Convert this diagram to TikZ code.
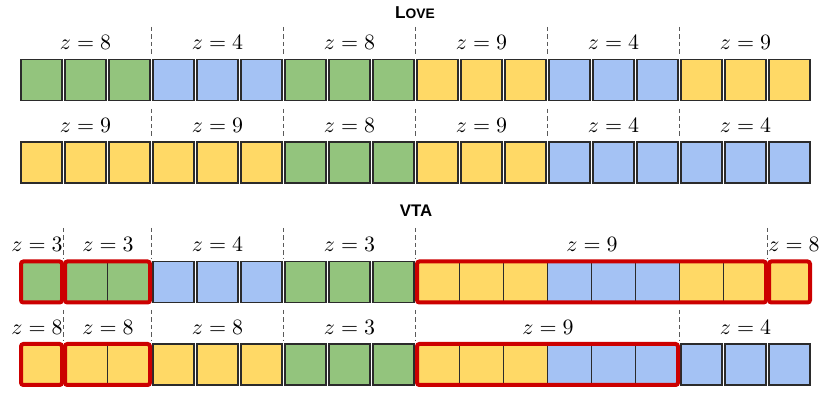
\documentclass[tikz,border=0pt]{standalone}
\usepackage{fontspec}
\newfontfamily\titlefont{Liberation Sans}
\definecolor{cg}{HTML}{93C47D}
\definecolor{cb}{HTML}{A4C2F4}
\definecolor{cy}{HTML}{FFD966}
\definecolor{sqborder}{HTML}{2B2B2B}
\definecolor{redc}{HTML}{CC0000}
\definecolor{dashc}{HTML}{5A5A5A}
\begin{document}
\begin{tikzpicture}[x=0.5pt,y=-0.5pt,
  sq/.style={draw=sqborder, line width=0.6pt, inner sep=0pt, outer sep=0pt, minimum height=20.5pt, anchor=north west},
  redbox/.style={draw=redc, line width=2pt, rounded corners=1.2pt},
  dashline/.style={draw=dashc, line width=0.75pt, dash pattern=on 2.2pt off 1.5pt},
  lab/.style={inner sep=0pt, font=\fontsize{10.5}{12}\selectfont},
  ttl/.style={inner sep=0pt, anchor=base, font=\titlefont\bfseries}
]
\useasboundingbox (0,0) rectangle (830,394);

% titles
\node[ttl] (love) at (415,19) {{\fontsize{8.6}{10}\selectfont L}{\fontsize{6.9}{8}\selectfont OVE}};
\node[ttl] (vta) at (416,216.7) {\fontsize{8.4}{10}\selectfont VTA};

% row 1
\foreach \i/\c in {1/cg,2/cg,3/cg,4/cb,5/cb,6/cb,7/cg,8/cg,9/cg,10/cy,11/cy,12/cy,13/cb,14/cb,15/cb,16/cy,17/cy,18/cy}
  \node[sq, fill=\c, minimum width=20.5pt] (r1s\i) at ({21+44*(\i-1)},59.5) {};
% row 2
\foreach \i/\c in {1/cy,2/cy,3/cy,4/cy,5/cy,6/cy,7/cg,8/cg,9/cg,10/cy,11/cy,12/cy,13/cb,14/cb,15/cb,16/cb,17/cb,18/cb}
  \node[sq, fill=\c, minimum width=20.5pt] (r2s\i) at ({21+44*(\i-1)},142) {};
% row 3
\foreach \i/\c/\a/\b in {1/cg/0/0,2/cg/0/1.5,3/cg/1.5/0,4/cb/0/0,5/cb/0/0,6/cb/0/0,7/cg/0/0,8/cg/0/0,9/cg/0/0,10/cy/0/1.5,11/cy/1.5/1.5,12/cy/1.5/1.5,13/cb/1.5/1.5,14/cb/1.5/1.5,15/cb/1.5/1.5,16/cy/1.5/1.5,17/cy/1.5/0,18/cy/0/0}
  \node[sq, fill=\c, minimum width={(41+\a+\b)*0.5pt}] (r3s\i) at ({21+44*(\i-1)-\a},261.5) {};
% row 4
\foreach \i/\c/\a/\b in {1/cy/0/0,2/cy/0/1.5,3/cy/1.5/0,4/cy/0/0,5/cy/0/0,6/cy/0/0,7/cg/0/0,8/cg/0/0,9/cg/0/0,10/cy/0/1.5,11/cy/1.5/1.5,12/cy/1.5/1.5,13/cb/1.5/1.5,14/cb/1.5/1.5,15/cb/1.5/0,16/cb/0/0,17/cb/0/0,18/cb/0/0}
  \node[sq, fill=\c, minimum width={(41+\a+\b)*0.5pt}] (r4s\i) at ({21+44*(\i-1)-\a},344) {};

% red groups
\draw[redbox] (r3s1.north west) rectangle (r3s1.south east);
\draw[redbox] (r3s2.north west) rectangle (r3s3.south east);
\draw[redbox] (r3s10.north west) rectangle (r3s17.south east);
\draw[redbox] (r3s18.north west) rectangle (r3s18.south east);
\draw[redbox] (r4s1.north west) rectangle (r4s1.south east);
\draw[redbox] (r4s2.north west) rectangle (r4s3.south east);
\draw[redbox] (r4s10.north west) rectangle (r4s15.south east);

% dashed separators
\foreach \x in {151.5,283.5,415.5,547.5,679.5} {
  \draw[dashline] (\x,27) -- (\x,55);
  \draw[dashline] (\x,109) -- (\x,137);
}
\foreach \x in {63.5,151.5,283.5,415.5,767.5}
  \draw[dashline] (\x,228) -- (\x,258);
\foreach \x in {63.5,151.5,283.5,415.5,679.5}
  \draw[dashline] (\x,310) -- (\x,341);

% labels row 1
\node[lab] (l1a) at (85.5,42.5) {$z=8$};
\node[lab] (l1b) at (217.5,42.5) {$z=4$};
\node[lab] (l1c) at (349.5,42.5) {$z=8$};
\node[lab] (l1d) at (481.5,42.5) {$z=9$};
\node[lab] (l1e) at (613.5,42.5) {$z=4$};
\node[lab] (l1f) at (745.5,42.5) {$z=9$};
% labels row 2
\node[lab] (l2a) at (85.5,125.5) {$z=9$};
\node[lab] (l2b) at (217.5,125.5) {$z=9$};
\node[lab] (l2c) at (349.5,125.5) {$z=8$};
\node[lab] (l2d) at (481.5,125.5) {$z=9$};
\node[lab] (l2e) at (613.5,125.5) {$z=4$};
\node[lab] (l2f) at (745.5,125.5) {$z=4$};
% labels row 3
\node[lab] (l3a) at (37,244.3) {$z=3$};
\node[lab] (l3b) at (108,244.3) {$z=3$};
\node[lab] (l3c) at (217.5,244.3) {$z=4$};
\node[lab] (l3d) at (349.5,244.3) {$z=3$};
\node[lab] (l3e) at (592,244.3) {$z=9$};
\node[lab] (l3f) at (794,244.3) {$z=8$};
% labels row 4
\node[lab] (l4a) at (37,327.2) {$z=8$};
\node[lab] (l4b) at (108,327.2) {$z=8$};
\node[lab] (l4c) at (217.5,327.2) {$z=8$};
\node[lab] (l4d) at (349.5,327.2) {$z=3$};
\node[lab] (l4e) at (548,327.2) {$z=9$};
\node[lab] (l4f) at (745.5,327.2) {$z=4$};
\end{tikzpicture}
\end{document}
